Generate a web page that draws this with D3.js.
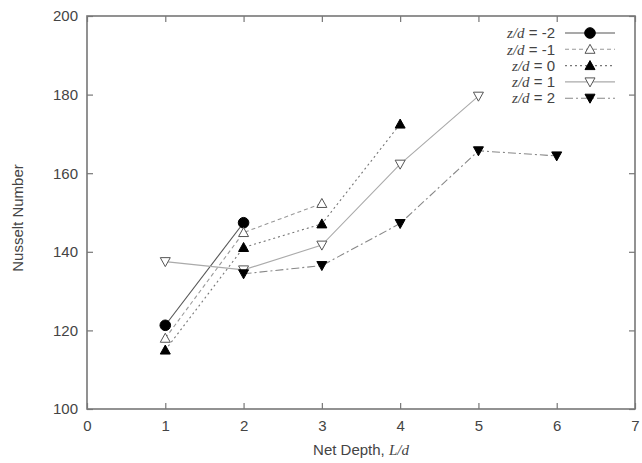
<!DOCTYPE html>
<html><head><meta charset="utf-8">
<script src="https://cdn.jsdelivr.net/npm/d3@7"></script>
<style>body{margin:0;background:#fff}svg{display:block}text{font-family:"Liberation Sans",Arial,sans-serif}</style>
</head><body>
<svg id="c" width="642" height="463"></svg>
<script>
const seriesNames = ["-2", "-1", "0", "1", "2"];
const xs_m2 = [1, 2], ys_m2 = [121.3, 147.4];
const xs_m1 = [1, 2, 3], ys_m1 = [118.0, 144.9, 152.3];
const xs_0 = [1, 2, 3, 4], ys_0 = [115.0, 141.1, 147.1, 172.5];
const xs_p1 = [1, 2, 3, 4, 5], ys_p1 = [137.5, 135.4, 141.7, 162.3, 179.6];
const xs_p2 = [2, 3, 4, 5, 6], ys_p2 = [134.4, 136.5, 147.2, 165.7, 164.4];
const xTicks = [0, 1, 2, 3, 4, 5, 6, 7];
const yTicks = [100, 120, 140, 160, 180, 200];

const styles = [
  {dash: null, color: "#555", marker: "circle", fill: "#000"},
  {dash: "4,3", color: "#999", marker: "tri", fill: "#fff"},
  {dash: "2,3", color: "#777", marker: "tri", fill: "#000"},
  {dash: null, color: "#aaa", marker: "itri", fill: "#fff"},
  {dash: "8,3,2,3", color: "#888", marker: "itri", fill: "#000"}
];
const data = [[xs_m2, ys_m2], [xs_m1, ys_m1], [xs_0, ys_0], [xs_p1, ys_p1], [xs_p2, ys_p2]]
  .map(([a, b]) => a.map((x, i) => ({x, y: b[i]})));

const svg = d3.select("#c");
const L = 87, R = 635, T = 16, B = 409;
const x = d3.scaleLinear().domain([0, 7]).range([L, R]);
const y = d3.scaleLinear().domain([100, 200]).range([B, T]);
const FS = 15;

const axisCol = "#777", txtCol = "#444";
const gB = svg.append("g").attr("transform", `translate(0,${B})`)
  .call(d3.axisBottom(x).tickValues(xTicks).tickSize(-6).tickPadding(11).tickFormat(d3.format("d")));
const gT = svg.append("g").attr("transform", `translate(0,${T})`)
  .call(d3.axisTop(x).tickValues(xTicks).tickSize(-6).tickFormat(""));
const gL = svg.append("g").attr("transform", `translate(${L},0)`)
  .call(d3.axisLeft(y).tickValues(yTicks).tickSize(-6).tickPadding(9).tickFormat(d3.format("d")));
const gR = svg.append("g").attr("transform", `translate(${R},0)`)
  .call(d3.axisRight(y).tickValues(yTicks).tickSize(-6).tickFormat(""));
[gB, gT, gL, gR].forEach(g => {
  g.select(".domain").remove();
  g.selectAll(".tick line").attr("stroke", axisCol).attr("stroke-width", 1.2);
  g.selectAll("text").attr("fill", txtCol).attr("font-size", FS).attr("font-family", '"Liberation Sans",Arial,sans-serif');
});
svg.append("rect").attr("x", L).attr("y", T).attr("width", R - L).attr("height", B - T)
  .attr("fill", "none").attr("stroke", axisCol).attr("stroke-width", 1.6);

svg.append("text").attr("x", 361).attr("y", 455).attr("text-anchor", "middle")
  .attr("font-size", FS).attr("fill", txtCol)
  .html('Net Depth, <tspan font-style="italic" font-family="Liberation Serif,serif">L/d</tspan>');
svg.append("text").attr("transform", `translate(18,218) rotate(-90)`)
  .attr("text-anchor", "middle").attr("font-size", FS).attr("fill", txtCol).attr("dy", "0.35em")
  .text("Nusselt Number");

function marker(g, kind, fill, cx, cy) {
  if (kind === "circle") {
    g.append("circle").attr("cx", cx).attr("cy", cy).attr("r", 5.3).attr("fill", fill).attr("stroke", "#000");
  } else {
    const s = 5, up = kind === "tri" ? 1 : -1;
    const pts = [[cx - s, cy + up * s * 0.8], [cx + s, cy + up * s * 0.8], [cx, cy - up * s * 1.0]];
    g.append("path").attr("d", "M" + pts.map(p => p.join(",")).join("L") + "Z")
      .attr("fill", fill).attr("stroke", fill === "#fff" ? "#555" : "#000").attr("stroke-width", 1);
  }
}

const line = d3.line().x(d => x(d.x)).y(d => y(d.y));
data.forEach((s, i) => {
  const st = styles[i];
  const g = svg.append("g");
  g.append("path").datum(s).attr("d", line).attr("fill", "none").attr("stroke", st.color)
    .attr("stroke-width", 1.1).attr("stroke-dasharray", st.dash);
  s.forEach(d => marker(g, st.marker, st.fill, x(d.x), y(d.y)));
});

const lg = svg.append("g");
seriesNames.forEach((n, i) => {
  const st = styles[i];
  const yy = 33 + i * 16.3;
  lg.append("text").attr("x", 555).attr("y", yy).attr("dy", "0.35em").attr("text-anchor", "end")
    .attr("font-size", FS).attr("fill", txtCol)
    .html(`<tspan font-style="italic" font-family="Liberation Serif,serif">z/d</tspan> = ${n}`);
  lg.append("line").attr("x1", 565).attr("x2", 615).attr("y1", yy).attr("y2", yy)
    .attr("stroke", st.color).attr("stroke-width", 1.1).attr("stroke-dasharray", st.dash);
  marker(lg, st.marker, st.fill, 590, yy);
});
</script>
</body></html>
